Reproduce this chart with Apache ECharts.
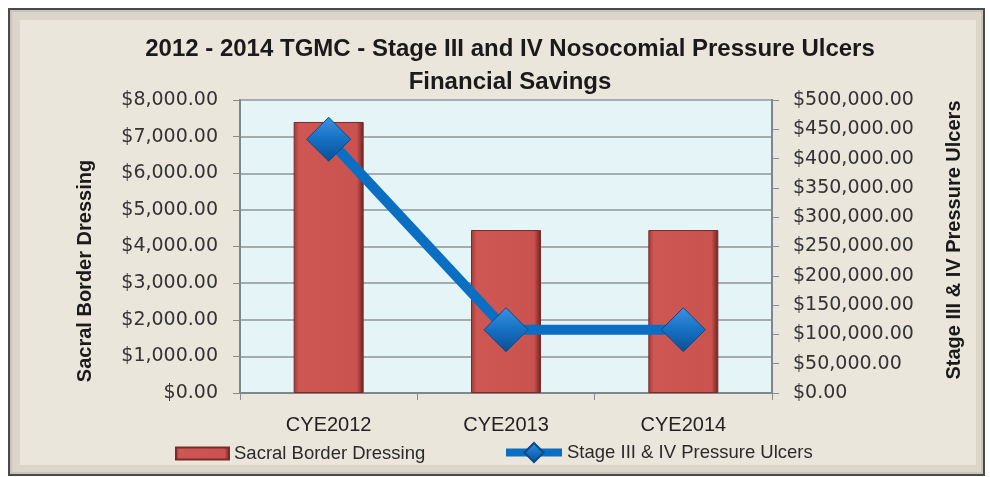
<!DOCTYPE html>
<html>
<head>
<meta charset="utf-8">
<script src="https://cdn.jsdelivr.net/npm/echarts@6/dist/echarts.min.js"></script>
<style>html,body{margin:0;padding:0;background:#fff;}#c{width:990px;height:477px;}</style>
</head>
<body>
<div id="c"></div>
<script>
var categories = ['CYE2012', 'CYE2013', 'CYE2014'];
var dressingValues = [7400, 4450, 4450];
var ulcerValues = [433000, 108000, 108000];
var leftTicks = {min: 0, max: 8000, interval: 1000};
var rightTicks = {min: 0, max: 500000, interval: 50000};
var titleLines = ['2012 - 2014 TGMC - Stage III and IV Nosocomial Pressure Ulcers', 'Financial Savings'];
var seriesNames = ['Sacral Border Dressing', 'Stage III & IV Pressure Ulcers'];
var axisNames = ['Sacral Border Dressing', 'Stage III & IV Pressure Ulcers'];

function money(v) {
  return '$' + Number(v).toLocaleString('en-US', {minimumFractionDigits: 2, maximumFractionDigits: 2});
}

var chart = echarts.init(document.getElementById('c'), null, {renderer: 'canvas'});
var labelFont = 'DejaVu Sans';
var textFont = 'Liberation Sans, Arial, sans-serif';

chart.setOption({
  backgroundColor: '#ffffff',
  animation: false,
  graphic: [
    {type: 'rect', z: -10, shape: {x: 9, y: 9, width: 975, height: 466}, style: {fill: '#cbc5b9', stroke: '#4a4a4a', lineWidth: 2}},
    {type: 'rect', z: -9, shape: {x: 12, y: 12, width: 969, height: 460}, style: {fill: '#dcd6ca'}},
    {type: 'rect', z: -8, shape: {x: 20, y: 20, width: 956, height: 445}, style: {fill: '#ebe6dc'}},
    {type: 'text', z: 5, x: 85, y: 271, rotation: Math.PI / 2,
      style: {text: axisNames[0], font: 'bold 20px ' + textFont, fill: '#1a1a1a', align: 'center', verticalAlign: 'middle'}},
    {type: 'text', z: 5, x: 954, y: 240, rotation: Math.PI / 2,
      style: {text: axisNames[1], font: 'bold 20px ' + textFont, fill: '#1a1a1a', align: 'center', verticalAlign: 'middle'}}
  ],
  title: {
    text: titleLines.join('\n'),
    left: 505,
    top: 28,
    textAlign: 'center',
    textStyle: {fontFamily: textFont, fontSize: 24, fontWeight: 'bold', color: '#1a1a1a', lineHeight: 33}
  },
  legend: [
    {data: [{name: seriesNames[0], icon: 'rect'}], left: 170, top: 439, itemWidth: 53, itemHeight: 12,
      textStyle: {fontFamily: textFont, fontSize: 18.5, color: '#2a2a2a'}},
    {data: [seriesNames[1]], left: 497, top: 437, itemWidth: 56, itemHeight: 24,
      lineStyle: {width: 8}, textStyle: {fontFamily: textFont, fontSize: 18.5, color: '#2a2a2a'}}
  ],
  grid: {left: 240, right: 218, top: 100, bottom: 84, show: true, backgroundColor: '#e4f4f7',
    borderColor: '#7d888c', borderWidth: 2, outerBoundsMode: 'none'},
  xAxis: {
    type: 'category',
    data: categories,
    axisLine: {show: true, lineStyle: {color: '#7d888c', width: 2}},
    axisTick: {show: true, length: 7, lineStyle: {color: '#8a8a8a'}},
    axisLabel: {fontFamily: textFont, fontSize: 20, color: '#222', margin: 22}
  },
  yAxis: [
    {type: 'value', min: leftTicks.min, max: leftTicks.max, interval: leftTicks.interval,
      axisLine: {show: true, lineStyle: {color: '#7d888c', width: 2}},
      axisTick: {show: true, length: 7, lineStyle: {color: '#8a8a8a'}},
      splitLine: {show: true, lineStyle: {color: '#a4acae', width: 2}},
      axisLabel: {formatter: money, fontFamily: labelFont, fontSize: 19, color: '#333', margin: 22}},
    {type: 'value', min: rightTicks.min, max: rightTicks.max, interval: rightTicks.interval,
      axisLine: {show: true, lineStyle: {color: '#7d888c', width: 2}},
      axisTick: {show: true, length: 7, lineStyle: {color: '#8a8a8a'}},
      splitLine: {show: false},
      axisLabel: {formatter: money, fontFamily: labelFont, fontSize: 19, color: '#333', margin: 21}}
  ],
  series: [
    {name: seriesNames[0], type: 'bar', data: dressingValues, barWidth: 70, z: 2,
      itemStyle: {
        color: new echarts.graphic.LinearGradient(0, 0, 1, 0, [
          {offset: 0, color: '#9e3a37'}, {offset: 0.08, color: '#cf5753'},
          {offset: 0.9, color: '#cb534f'}, {offset: 1, color: '#6a2220'}]),
        borderColor: '#7a2b29', borderWidth: 1
      }},
    {name: seriesNames[1], type: 'line', yAxisIndex: 1, data: ulcerValues, z: 3,
      symbol: 'diamond', symbolSize: 44,
      lineStyle: {color: '#0a6fc2', width: 10},
      itemStyle: {
        color: new echarts.graphic.LinearGradient(0, 0, 0, 1, [
          {offset: 0, color: '#3d92e0'}, {offset: 0.5, color: '#1670c4'}, {offset: 1, color: '#0b4f91'}]),
        borderColor: '#0b4a86', borderWidth: 1
      }}
  ]
});
</script>
</body>
</html>
